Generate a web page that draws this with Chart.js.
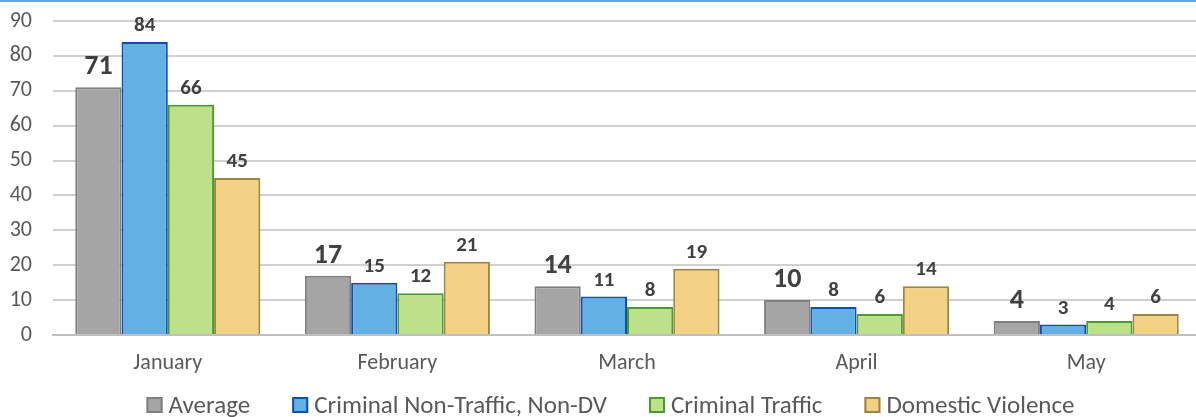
<!DOCTYPE html>
<html>
<head>
<meta charset="utf-8">
<script src="https://cdn.jsdelivr.net/npm/chart.js@4"></script>
<style>
  html, body { margin: 0; padding: 0; background: #fff; overflow: hidden; }
  #wrap { position: relative; width: 1201px; height: 417px; }
  #topline { position: absolute; left: 0; top: 0; width: 1196px; height: 2px; background: #5aa9e0; }
</style>
</head>
<body>
<div id="wrap"><canvas id="c"></canvas></div>
<div id="topline"></div>
<script>
const categories = ["January", "February", "March", "April", "May"];
const seriesNames = ["Average", "Criminal Non-Traffic, Non-DV", "Criminal Traffic", "Domestic Violence"];
const averageVals = [71, 17, 14, 10, 4];
const nonTrafficVals = [84, 15, 11, 8, 3];
const trafficVals = [66, 12, 8, 6, 4];
const dvVals = [45, 21, 19, 14, 6];
const yTicks = [0, 10, 20, 30, 40, 50, 60, 70, 80, 90];

const FONT = "Carlito, Lato, 'Liberation Sans', sans-serif";
const TICK_SIZE = 22;

const labelPlugin = {
  id: 'barLabels',
  afterDatasetsDraw(chart) {
    const ctx = chart.ctx;
    ctx.save();
    ctx.textAlign = 'center';
    ctx.textBaseline = 'alphabetic';
    ctx.fillStyle = '#404040';
    chart.data.datasets.forEach((ds, di) => {
      const meta = chart.getDatasetMeta(di);
      const big = di === 0;
      ctx.font = (big ? 'bold 28px ' : 'bold 21px ') + FONT;
      meta.data.forEach((bar, i) => {
        ctx.fillText(String(ds.data[i]), bar.x, bar.y - (big ? 13 : 11));
      });
    });
    ctx.restore();
  }
};

const legendPlugin = {
  id: 'bottomLegend',
  afterDraw(chart) {
    const ctx = chart.ctx;
    ctx.save();
    ctx.font = '25px ' + FONT;
    const box = 16, boxGap = 6, itemGap = 42;
    const items = chart.data.datasets.map(ds => ({ ds, w: ctx.measureText(ds.label).width }));
    let total = 0;
    items.forEach((it, i) => { total += box + boxGap + it.w + (i < items.length - 1 ? itemGap : 0); });
    let x = 610.5 - total / 2;
    const boxTop = 397, baseline = 413;
    ctx.textBaseline = 'alphabetic';
    ctx.textAlign = 'left';
    items.forEach(it => {
      ctx.fillStyle = it.ds.backgroundColor;
      ctx.fillRect(x, boxTop, box, box);
      ctx.strokeStyle = it.ds.borderColor;
      ctx.lineWidth = 2;
      ctx.strokeRect(x + 1, boxTop + 1, box - 2, box - 2);
      ctx.fillStyle = '#595959';
      ctx.fillText(it.ds.label, x + box + boxGap, baseline);
      x += box + boxGap + it.w + itemGap;
    });
    ctx.restore();
  }
};

new Chart(document.getElementById('c'), {
  type: 'bar',
  data: {
    labels: categories,
    datasets: [
      { label: seriesNames[0], data: averageVals, backgroundColor: '#a5a5a5', borderColor: '#7f7f7f', borderWidth: 2 },
      { label: seriesNames[1], data: nonTrafficVals, backgroundColor: '#63b0e4', borderColor: '#0c4fb3', borderWidth: 2 },
      { label: seriesNames[2], data: trafficVals, backgroundColor: '#bde18a', borderColor: '#4b9a2f', borderWidth: 2 },
      { label: seriesNames[3], data: dvVals, backgroundColor: '#f2d184', borderColor: '#9c8541', borderWidth: 2 }
    ]
  },
  options: {
    responsive: true,
    maintainAspectRatio: false,
    animation: false,
    datasets: { bar: { categoryPercentage: 0.806, barPercentage: 1.0 } },
    layout: { padding: { top: 21, right: 0, left: 0, bottom: 0 } },
    plugins: {
      legend: { display: false },
      tooltip: { enabled: false }
    },
    scales: {
      x: {
        afterFit(scale) { scale.height = 82; },
        grid: { display: false },
        border: { display: true, color: '#bfbfbf', width: 2 },
        ticks: { font: { family: FONT, size: TICK_SIZE }, color: '#595959', padding: 7 }
      },
      y: {
        min: 0, max: 90,
        afterBuildTicks(scale) { scale.ticks = yTicks.map(v => ({ value: v })); },
        afterFit(scale) { scale.width = 53; scale.paddingTop = 0; scale.paddingBottom = 0; },
        grid: { color: '#d0d0d0', lineWidth: 2, drawTicks: false },
        border: { display: false },
        ticks: { font: { family: FONT, size: TICK_SIZE }, color: '#595959', padding: 21 }
      }
    }
  },
  plugins: [labelPlugin, legendPlugin]
});
</script>
</body>
</html>
